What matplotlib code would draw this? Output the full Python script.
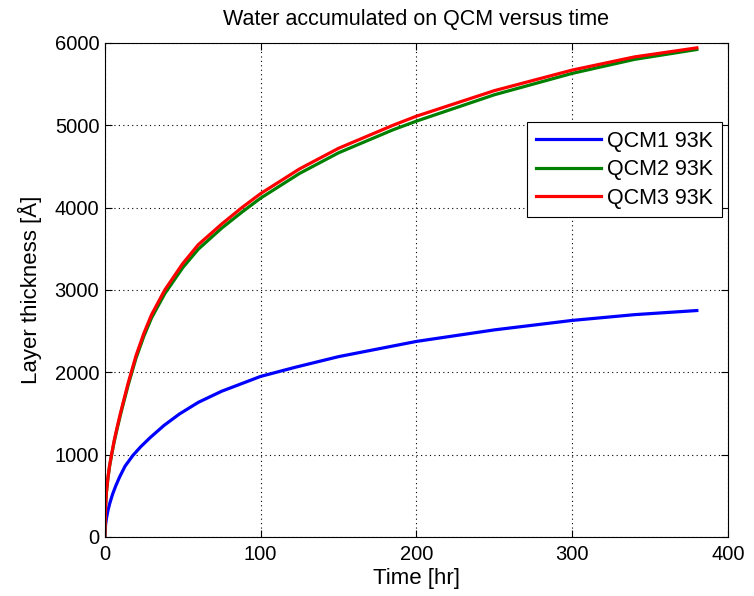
import numpy as np
import matplotlib
matplotlib.use('Agg')
import matplotlib.pyplot as plt

plt.rcParams['font.family'] = ['Liberation Sans', 'DejaVu Sans']

# values (time in hr, thickness in Angstrom)
t_qcm1 = [0, 0.5, 1, 2, 3.2, 5, 7, 9.6, 13, 18, 23, 29, 38, 48, 60, 75, 100, 122, 150,
          200, 250, 300, 340, 380]
d_qcm1 = [0, 150, 220, 320, 410, 520, 620, 733, 860, 990, 1095, 1205, 1355, 1495, 1635,
          1770, 1950, 2060, 2190, 2375, 2515, 2630, 2700, 2750]

t_qcm2 = [0, 0.5, 1, 2, 3, 4.3, 6, 8, 10, 12, 15, 20, 25, 30, 38.5, 50, 60, 75, 88, 100,
          125, 150, 185, 200, 250, 300, 340, 380]
d_qcm2 = [0, 375, 535, 712, 850, 988, 1155, 1322, 1480, 1628, 1845, 2170, 2435, 2660,
          2955, 3270, 3495, 3750, 3945, 4115, 4415, 4665, 4945, 5050, 5370, 5630, 5800, 5920]

t_qcm3 = [0, 0.5, 1, 2, 3, 4.3, 6, 8, 10, 12, 15, 20, 25, 30, 38.5, 50, 60, 75, 88, 100,
          125, 150, 185, 200, 250, 300, 340, 380]
d_qcm3 = [0, 380, 540, 720, 860, 1000, 1170, 1340, 1500, 1650, 1870, 2200, 2470, 2700,
          3000, 3320, 3550, 3800, 4000, 4170, 4470, 4720, 5000, 5110, 5420, 5670, 5830, 5940]

labels = ['QCM1 93K', 'QCM2 93K', 'QCM3 93K']
colors = ['#0000ff', '#008000', '#ff0000']

fig = plt.figure(figsize=(7.54, 5.96), dpi=100)
ax = fig.add_axes([0.139, 0.099, 0.8265, 0.829])

for t, d, lab, c in zip([t_qcm1, t_qcm2, t_qcm3], [d_qcm1, d_qcm2, d_qcm3], labels, colors):
    ax.plot(t, d, color=c, lw=2.3, label=lab)

ax.set_xlim(0, 400)
ax.set_ylim(0, 6000)
ax.set_xticks(np.arange(0, 401, 100))
ax.set_yticks(np.arange(0, 6001, 1000))
ax.grid(True, color='black', linestyle=(0, (1, 3)), linewidth=0.8)
ax.tick_params(direction='in', top=True, right=True, labelsize=14.5, length=5)
ax.tick_params(axis='x', pad=6)
ax.tick_params(axis='y', pad=4)
for s in ax.spines.values():
    s.set_linewidth(0.8)

ax.set_xlabel('Time [hr]', fontsize=16, labelpad=3)
ax.set_ylabel('Layer thickness [Å]', fontsize=16, labelpad=9)
ax.set_title('Water accumulated on QCM versus time', fontsize=15.5, pad=13)

leg = ax.legend(loc='upper right', bbox_to_anchor=(0.990, 0.840), borderaxespad=0,
                fontsize=15.5, fancybox=False, framealpha=1, edgecolor='black',
                handlelength=3.0, borderpad=0.4, labelspacing=0.35, handletextpad=0.3)
leg.get_frame().set_linewidth(0.8)

fig.savefig('out.png', dpi=100)
